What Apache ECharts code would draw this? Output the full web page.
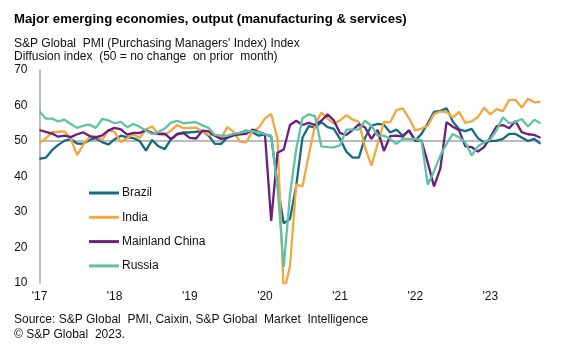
<!DOCTYPE html>
<html>
<head>
<meta charset="UTF-8">
<title>Major emerging economies, output</title>
<script src="https://cdn.jsdelivr.net/npm/echarts@6/dist/echarts.min.js"></script>
<style>
  html, body { margin: 0; padding: 0; background: #fff; }
  #chart { width: 567px; height: 354px; }
</style>
</head>
<body>
<div id="chart"></div>
<script>
// monthly, Jan 2017 .. Sep 2023
var months = [];
for (var y = 2017; y <= 2023; y++) {
  for (var m = 1; m <= 12; m++) {
    if (y === 2023 && m > 9) break;
    months.push(y + '-' + (m < 10 ? '0' + m : m));
  }
}
var yearLabels = ["'17", "'18", "'19", "'20", "'21", "'22", "'23"];
var yTicks = [10, 20, 30, 40, 50, 60, 70];

var brazil = [
  45.0, 45.3, 47.4, 48.9, 50.1, 50.5, 49.3, 49.2, 50.3, 50.8, 49.7, 49.0,
  50.5, 51.5, 51.0, 50.8, 50.0, 47.3, 50.3, 48.5, 47.7, 50.5, 52.0, 52.4,
  52.4, 52.6, 52.7, 51.5, 49.2, 49.2, 51.0, 51.7, 52.3, 52.9, 52.5, 51.5,
  51.9, 51.3, 37.6, 26.8, 28.0, 37.5, 51.0, 54.2, 53.8, 55.3, 53.9, 53.4,
  50.6, 47.0, 45.3, 45.3, 51.0, 54.3, 54.8, 54.6, 52.4, 53.2, 51.5, 53.0,
  50.1, 52.0, 55.0, 58.2, 58.5, 59.2, 55.5, 53.3, 52.8, 53.4, 50.8, 49.6,
  50.0, 50.1, 50.6, 52.0, 52.0, 51.0, 50.0, 50.6, 49.2
];
var india = [
  49.4, 50.7, 52.5, 52.6, 52.7, 50.7, 46.0, 49.0, 51.1, 51.3, 50.3, 53.0,
  52.5, 49.7, 50.8, 51.9, 50.9, 53.3, 54.1, 51.9, 51.6, 53.0, 54.5, 53.6,
  53.6, 53.8, 52.7, 51.7, 51.7, 50.8, 53.9, 52.6, 49.8, 49.6, 52.7, 53.7,
  56.3, 57.6, 50.6, 7.2, 14.8, 37.8, 37.2, 46.0, 54.6, 58.0, 56.3, 54.9,
  55.8, 57.3, 56.0, 55.4, 48.1, 43.1, 49.2, 55.4, 55.3, 58.7, 59.2, 56.4,
  53.0, 53.5, 54.3, 57.6, 58.3, 58.2, 56.6, 58.2, 55.1, 55.5, 56.7, 59.4,
  57.5, 59.0, 58.4, 61.6, 61.6, 59.4, 61.9, 60.9, 61.0
];
var china = [
  53.1, 52.6, 52.1, 51.2, 51.5, 51.1, 51.9, 52.4, 51.4, 51.0, 51.6, 53.0,
  53.7, 53.3, 51.8, 52.3, 52.3, 53.0, 52.3, 52.0, 52.1, 50.5, 51.9, 52.2,
  50.9, 50.7, 52.9, 52.7, 51.5, 50.6, 50.9, 51.6, 51.9, 52.0, 53.2, 52.6,
  51.9, 27.5, 46.7, 47.6, 54.5, 55.7, 54.5, 55.1, 54.5, 55.7, 57.5, 55.8,
  52.2, 51.7, 53.1, 54.7, 53.8, 50.6, 53.1, 47.2, 51.4, 51.5, 51.2, 53.0,
  50.1, 50.1, 43.9, 37.2, 42.2, 55.3, 54.0, 53.0, 48.5, 48.3, 47.0, 48.3,
  51.1, 54.2, 54.5, 53.6, 55.6, 52.5, 51.9, 51.7, 50.9
];
var russia = [
  58.4, 56.3, 56.3, 55.5, 56.0, 54.8, 53.7, 54.3, 54.6, 53.7, 56.2, 55.8,
  55.0, 55.4, 53.9, 54.8, 54.0, 52.9, 52.0, 52.5, 53.5, 55.2, 55.7, 55.0,
  55.2, 55.3, 54.4, 53.7, 51.7, 51.5, 51.5, 52.0, 52.3, 52.8, 52.8, 52.4,
  51.9, 51.5, 37.2, 14.5, 35.0, 47.8, 56.5, 57.5, 57.0, 48.5, 48.3, 48.2,
  48.8, 53.2, 53.2, 53.3, 55.7, 54.3, 51.5, 51.5, 50.6, 49.2, 50.6, 50.6,
  50.6, 50.1, 37.7, 41.5, 45.9, 49.2, 52.0, 51.0, 49.6, 45.9, 48.5, 49.6,
  50.5, 53.1, 56.7, 55.0, 55.4, 56.2, 54.1, 56.0, 55.0
];

var names = ['Brazil', 'India', 'Mainland China', 'Russia'];
var colors = ['#146c80', '#f4a640', '#6b1f7c', '#60c2a4'];
var values = [brazil, india, china, russia];

var font = '"Liberation Sans", Arial, sans-serif';
var chart = echarts.init(document.getElementById('chart'), null, { renderer: 'canvas' });

var series = names.map(function (n, i) {
  return {
    name: n,
    type: 'line',
    data: values[i],
    symbol: 'none',
    lineStyle: { width: 2.3, color: colors[i] },
    itemStyle: { color: colors[i] },
    clip: true
  };
});

// only the 50 line is drawn of the split lines
var splitColors = yTicks.map(function (t) { return t === 50 ? '#a6a6a6' : 'rgba(0,0,0,0)'; });

chart.setOption({
  animation: false,
  textStyle: { fontFamily: font },
  title: [
    {
      text: 'Major emerging economies, output (manufacturing & services)',
      left: 14, top: 13, padding: 0,
      textStyle: { fontSize: 13.2, fontWeight: 'bold', color: '#000', fontFamily: font }
    },
    {
      text: "S&P Global  PMI (Purchasing Managers' Index) Index\nDiffusion index  (50 = no change  on prior  month)",
      left: 14, top: 37, padding: 0,
      textStyle: { fontSize: 12, fontWeight: 'normal', color: '#111', lineHeight: 13, fontFamily: font }
    },
    {
      text: 'Source: S&P Global  PMI, Caixin, S&P Global  Market  Intelligence\n\u00a9 S&P Global  2023.',
      left: 14, top: 312, padding: 0,
      textStyle: { fontSize: 12, fontWeight: 'normal', color: '#111', lineHeight: 15, fontFamily: font }
    }
  ],
  legend: {
    data: names,
    orient: 'vertical',
    left: 89, top: 187, padding: 0,
    icon: 'rect',
    itemWidth: 30, itemHeight: 3,
    itemGap: 12.3,
    textStyle: { fontSize: 12, color: '#111', fontFamily: font, padding: [0, 0, 0, -2] }
  },
  grid: { left: 39.5, top: 70, width: 501, height: 213, containLabel: false },
  xAxis: {
    type: 'category',
    data: months,
    boundaryGap: false,
    axisLine: { show: false },
    axisTick: { show: false },
    splitLine: { show: false },
    axisLabel: {
      interval: function (idx) { return idx % 12 === 0; },
      formatter: function (v, idx) { return yearLabels[Math.floor(idx / 12)]; },
      fontSize: 12, color: '#111', margin: 8, fontFamily: font
    }
  },
  yAxis: {
    type: 'value',
    min: 10, max: 70, interval: 10,
    axisLine: { show: true, lineStyle: { color: '#a6a6a6', width: 1.5 } },
    axisTick: { show: false },
    axisLabel: { fontSize: 12, color: '#111', margin: 12, fontFamily: font },
    splitLine: { show: true, lineStyle: { color: splitColors, width: 1.5 } }
  },
  series: series
});
</script>
</body>
</html>
